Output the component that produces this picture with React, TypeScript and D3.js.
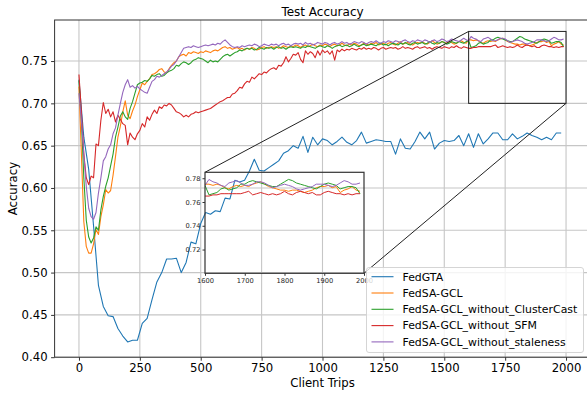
import * as d3 from "d3";
import React, { useEffect, useRef } from "react";

// FedGTA is logged every 20 trips, the others every 10
const gtaTrips = d3.range(0, 2000, 20);
const fedGTA = [
  0.728, 0.66, 0.622, 0.555, 0.485, 0.46, 0.449, 0.448, 0.434, 0.425,
  0.418, 0.42, 0.42, 0.44, 0.446, 0.468, 0.489, 0.5, 0.516, 0.516,
  0.517, 0.5, 0.512, 0.536, 0.534, 0.558, 0.571, 0.569, 0.573, 0.572,
  0.588, 0.587, 0.609, 0.607, 0.609, 0.62, 0.634, 0.621, 0.62, 0.624,
  0.628, 0.632, 0.641, 0.644, 0.65, 0.647, 0.661, 0.642, 0.66, 0.651,
  0.658, 0.656, 0.651, 0.655, 0.66, 0.654, 0.651, 0.656, 0.666, 0.653,
  0.655, 0.657, 0.656, 0.655, 0.655, 0.64, 0.658, 0.647, 0.646, 0.655,
  0.666, 0.658, 0.666, 0.646, 0.653, 0.656, 0.655, 0.656, 0.662, 0.65,
  0.664, 0.648, 0.664, 0.652, 0.658, 0.665, 0.665, 0.657, 0.657, 0.664,
  0.658, 0.661, 0.665, 0.662, 0.66, 0.657, 0.66, 0.657, 0.665, 0.665,
];

const trips = d3.range(0, 2000, 10);
const fedSA = [
  0.72, 0.64, 0.56, 0.531, 0.523, 0.523, 0.534, 0.551, 0.545, 0.566,
  0.58, 0.598, 0.594, 0.597, 0.615, 0.637, 0.66, 0.673, 0.69, 0.703,
  0.686, 0.682, 0.691, 0.698, 0.708, 0.716, 0.724, 0.722, 0.726, 0.729,
  0.734, 0.735, 0.737, 0.74, 0.741, 0.737, 0.736, 0.741, 0.745, 0.748,
  0.75, 0.755, 0.757, 0.758, 0.756, 0.76, 0.759, 0.761, 0.76, 0.759,
  0.761, 0.76, 0.762, 0.761, 0.76, 0.762, 0.763, 0.762, 0.764, 0.766,
  0.767, 0.765, 0.766, 0.764, 0.765, 0.766, 0.764, 0.765, 0.763, 0.765,
  0.764, 0.766, 0.765, 0.763, 0.764, 0.766, 0.767, 0.765, 0.766, 0.767,
  0.766, 0.767, 0.765, 0.766, 0.768, 0.767, 0.766, 0.768, 0.767, 0.769,
  0.768, 0.766, 0.768, 0.769, 0.767, 0.768, 0.77, 0.768, 0.767, 0.769,
  0.768, 0.77, 0.769, 0.767, 0.769, 0.77, 0.768, 0.769, 0.771, 0.769,
  0.768, 0.77, 0.769, 0.771, 0.77, 0.768, 0.769, 0.771, 0.77, 0.769,
  0.771, 0.77, 0.772, 0.769, 0.77, 0.771, 0.769, 0.771, 0.772, 0.77,
  0.769, 0.771, 0.773, 0.77, 0.771, 0.772, 0.77, 0.769, 0.771, 0.772,
  0.771, 0.773, 0.771, 0.77, 0.772, 0.774, 0.772, 0.77, 0.771, 0.773,
  0.772, 0.771, 0.773, 0.772, 0.77, 0.771, 0.773, 0.774, 0.772, 0.771,
  0.775, 0.775, 0.774, 0.775, 0.774, 0.772, 0.771, 0.773, 0.774, 0.773,
  0.774, 0.773, 0.775, 0.776, 0.777, 0.775, 0.773, 0.772, 0.771, 0.77,
  0.77, 0.769, 0.77, 0.77, 0.769, 0.768, 0.769, 0.77, 0.772, 0.773,
  0.773, 0.774, 0.772, 0.773, 0.768, 0.77, 0.771, 0.773, 0.77, 0.769,
];
const noClusterCast = [
  0.727, 0.68, 0.612, 0.562, 0.542, 0.535, 0.541, 0.554, 0.55, 0.574,
  0.59, 0.602, 0.612, 0.626, 0.64, 0.66, 0.672, 0.685, 0.69, 0.684,
  0.681, 0.694, 0.702, 0.712, 0.722, 0.724, 0.725, 0.727, 0.726, 0.729,
  0.733, 0.732, 0.734, 0.735, 0.732, 0.733, 0.736, 0.738, 0.739, 0.741,
  0.745, 0.744, 0.747, 0.749, 0.748, 0.746, 0.748, 0.751, 0.752, 0.754,
  0.753, 0.752, 0.75, 0.748, 0.751, 0.749, 0.75, 0.749, 0.752, 0.755,
  0.757, 0.758, 0.756, 0.758, 0.76, 0.761, 0.763, 0.762, 0.764, 0.765,
  0.764, 0.765, 0.763, 0.764, 0.766, 0.765, 0.764, 0.766, 0.765, 0.766,
  0.764, 0.766, 0.767, 0.765, 0.766, 0.764, 0.766, 0.767, 0.766, 0.767,
  0.766, 0.765, 0.767, 0.766, 0.768, 0.767, 0.766, 0.765, 0.767, 0.768,
  0.767, 0.766, 0.768, 0.767, 0.765, 0.767, 0.768, 0.769, 0.767, 0.768,
  0.769, 0.767, 0.768, 0.77, 0.768, 0.767, 0.769, 0.77, 0.768, 0.769,
  0.77, 0.769, 0.768, 0.77, 0.771, 0.769, 0.77, 0.768, 0.77, 0.771,
  0.77, 0.769, 0.771, 0.77, 0.772, 0.77, 0.769, 0.771, 0.772, 0.77,
  0.771, 0.772, 0.77, 0.771, 0.773, 0.771, 0.77, 0.772, 0.771, 0.773,
  0.772, 0.77, 0.771, 0.773, 0.772, 0.771, 0.773, 0.772, 0.771, 0.773,
  0.774, 0.766, 0.767, 0.768, 0.771, 0.772, 0.77, 0.771, 0.772, 0.775,
  0.775, 0.777, 0.778, 0.777, 0.776, 0.775, 0.774, 0.773, 0.773, 0.775,
  0.777, 0.779, 0.778, 0.776, 0.775, 0.774, 0.773, 0.772, 0.771, 0.773,
  0.775, 0.776, 0.775, 0.774, 0.771, 0.772, 0.773, 0.773, 0.772, 0.767,
];
const noSFM = [
  0.734, 0.69, 0.64, 0.612, 0.604, 0.614, 0.612, 0.652, 0.65, 0.68,
  0.701, 0.688, 0.693, 0.684, 0.69, 0.678, 0.686, 0.681, 0.676, 0.674,
  0.651, 0.665, 0.66, 0.657, 0.664, 0.668, 0.676, 0.672, 0.684, 0.68,
  0.687, 0.692, 0.688, 0.696, 0.694, 0.698, 0.697, 0.7, 0.698, 0.694,
  0.69, 0.689, 0.687, 0.684, 0.686, 0.684, 0.687, 0.688, 0.69, 0.689,
  0.69, 0.691, 0.692, 0.693, 0.694, 0.696, 0.698, 0.7, 0.702, 0.703,
  0.705, 0.707, 0.707, 0.711, 0.712, 0.715, 0.719, 0.718, 0.723, 0.726,
  0.725, 0.731, 0.729, 0.732, 0.735, 0.734, 0.737, 0.736, 0.739, 0.741,
  0.742, 0.74, 0.745, 0.744, 0.748, 0.755, 0.749, 0.753, 0.758, 0.757,
  0.76, 0.752, 0.748, 0.762, 0.758, 0.761, 0.759, 0.754, 0.762, 0.757,
  0.763, 0.76, 0.762, 0.758, 0.762, 0.751, 0.763, 0.761, 0.764, 0.762,
  0.764, 0.763, 0.765, 0.764, 0.763, 0.765, 0.764, 0.766, 0.764, 0.765,
  0.764, 0.766, 0.765, 0.763, 0.765, 0.766, 0.764, 0.765, 0.766, 0.765,
  0.766, 0.764, 0.765, 0.767, 0.765, 0.766, 0.765, 0.764, 0.766, 0.767,
  0.765, 0.766, 0.767, 0.765, 0.766, 0.764, 0.766, 0.767, 0.766, 0.765,
  0.767, 0.766, 0.765, 0.767, 0.766, 0.768, 0.766, 0.765, 0.767, 0.766,
  0.765, 0.765, 0.766, 0.766, 0.767, 0.767, 0.767, 0.767, 0.767, 0.767,
  0.768, 0.769, 0.766, 0.767, 0.768, 0.767, 0.766, 0.767, 0.766, 0.767,
  0.769, 0.767, 0.766, 0.768, 0.769, 0.768, 0.767, 0.768, 0.766, 0.766,
  0.768, 0.769, 0.768, 0.767, 0.767, 0.766, 0.767, 0.766, 0.767, 0.767,
];
const noStaleness = [
  0.712, 0.68, 0.64, 0.602, 0.576, 0.566, 0.563, 0.571, 0.594, 0.612,
  0.632, 0.637, 0.646, 0.651, 0.664, 0.671, 0.686, 0.7, 0.713, 0.722,
  0.728, 0.719, 0.721, 0.718, 0.72, 0.717, 0.715, 0.713, 0.712, 0.719,
  0.726, 0.728, 0.732, 0.731, 0.733, 0.735, 0.737, 0.74, 0.744, 0.746,
  0.75, 0.755, 0.76, 0.765, 0.766, 0.767, 0.766, 0.768, 0.767, 0.766,
  0.767, 0.768, 0.769, 0.768, 0.769, 0.77, 0.769, 0.771, 0.77, 0.773,
  0.775, 0.772, 0.769, 0.767, 0.766, 0.767, 0.766, 0.768, 0.767, 0.768,
  0.769, 0.768, 0.77, 0.769, 0.767, 0.768, 0.77, 0.769, 0.768, 0.77,
  0.769, 0.77, 0.768, 0.77, 0.771, 0.769, 0.77, 0.768, 0.77, 0.771,
  0.77, 0.771, 0.769, 0.772, 0.77, 0.771, 0.769, 0.77, 0.772, 0.771,
  0.77, 0.772, 0.771, 0.769, 0.771, 0.772, 0.77, 0.771, 0.773, 0.771,
  0.772, 0.77, 0.771, 0.773, 0.772, 0.771, 0.773, 0.772, 0.77, 0.772,
  0.773, 0.772, 0.774, 0.772, 0.771, 0.773, 0.772, 0.774, 0.773, 0.772,
  0.774, 0.773, 0.772, 0.774, 0.775, 0.773, 0.772, 0.774, 0.773, 0.775,
  0.774, 0.773, 0.775, 0.774, 0.772, 0.774, 0.775, 0.773, 0.774, 0.776,
  0.775, 0.773, 0.774, 0.776, 0.775, 0.774, 0.773, 0.775, 0.777, 0.775,
  0.774, 0.779, 0.777, 0.776, 0.774, 0.773, 0.776, 0.777, 0.778, 0.776,
  0.774, 0.774, 0.775, 0.777, 0.777, 0.776, 0.774, 0.772, 0.773, 0.774,
  0.775, 0.774, 0.773, 0.771, 0.77, 0.771, 0.772, 0.773, 0.775, 0.775,
  0.775, 0.774, 0.773, 0.774, 0.776, 0.778, 0.777, 0.775, 0.775, 0.776,
];

const seriesNames = [
  "FedGTA",
  "FedSA-GCL",
  "FedSA-GCL_without_ClusterCast",
  "FedSA-GCL_without_SFM",
  "FedSA-GCL_without_staleness",
];
const colors = ["#1f77b4", "#ff7f0e", "#2ca02c", "#d62728", "#9467bd"];
const xTicks = [0, 250, 500, 750, 1000, 1250, 1500, 1750, 2000];
const yTicks = [0.4, 0.45, 0.5, 0.55, 0.6, 0.65, 0.7, 0.75];
const insetXTicks = [1600, 1700, 1800, 1900, 2000];
const insetYTicks = [0.72, 0.74, 0.76, 0.78];

const font = "DejaVu Sans, sans-serif";

function AccuracyChart() {
  const width = 587;
  const height = 395;
  const ref = useRef<SVGSVGElement | null>(null);

  useEffect(() => {
    const svg = d3.select(ref.current);
    svg.selectAll("*").remove();

    const series = [
      { name: seriesNames[0], xs: gtaTrips, ys: fedGTA },
      { name: seriesNames[1], xs: trips, ys: fedSA },
      { name: seriesNames[2], xs: trips, ys: noClusterCast },
      { name: seriesNames[3], xs: trips, ys: noSFM },
      { name: seriesNames[4], xs: trips, ys: noStaleness },
    ];

    const x = d3.scaleLinear().domain([-100, 2100]).range([54.6, 590.4]);
    const y = d3.scaleLinear().domain([0.4, 0.7985]).range([357.2, 20]);
    const [left, right] = x.range();
    const [bottom, top] = y.range();

    svg.append("rect").attr("width", width).attr("height", height).attr("fill", "#fff");

    const defs = svg.append("defs");
    defs.append("clipPath").attr("id", "plot-clip")
      .append("rect").attr("x", left).attr("y", top)
      .attr("width", right - left).attr("height", bottom - top);

    // grid
    const grid = svg.append("g").attr("stroke", "#c6c6c6").attr("stroke-width", 1.1);
    grid.selectAll("line.v").data(xTicks).join("line").attr("class", "v")
      .attr("x1", (d) => x(d)).attr("x2", (d) => x(d)).attr("y1", top).attr("y2", bottom);
    grid.selectAll("line.h").data(yTicks).join("line").attr("class", "h")
      .attr("x1", left).attr("x2", right).attr("y1", (d) => y(d)).attr("y2", (d) => y(d));

    const line = d3.line<number>();
    const lines = svg.append("g").attr("clip-path", "url(#plot-clip)").attr("fill", "none");
    series.forEach((s, i) => {
      lines.append("path")
        .attr("d", line(s.ys.map((v, j) => [x(s.xs[j]), y(v)] as [number, number])))
        .attr("stroke", colors[i]).attr("stroke-width", 1.1).attr("stroke-linejoin", "round");
    });

    // axes
    const xAxis = svg.append("g").attr("transform", `translate(0,${bottom})`)
      .call(d3.axisBottom(x).tickValues(xTicks).tickFormat(d3.format("d")).tickSize(3.5).tickPadding(3.5));
    const yAxis = svg.append("g").attr("transform", `translate(${left},0)`)
      .call(d3.axisLeft(y).tickValues(yTicks).tickFormat(d3.format(".2f")).tickSize(3.5).tickPadding(3.5));
    [xAxis, yAxis].forEach((g) => {
      g.select(".domain").remove();
      g.selectAll("line").attr("stroke", "#333");
      g.selectAll("text").attr("font-family", font).attr("font-size", 11.7).attr("fill", "#000");
    });

    // spines (right one falls outside the picture)
    svg.append("rect").attr("x", left).attr("y", top)
      .attr("width", right - left).attr("height", bottom - top)
      .attr("fill", "none").attr("stroke", "#333").attr("stroke-width", 1);

    svg.append("text").attr("x", (left + right) / 2).attr("y", 16)
      .attr("text-anchor", "middle").attr("font-family", font).attr("font-size", 12)
      .text("Test Accuracy");
    svg.append("text").attr("x", (left + right) / 2).attr("y", 387)
      .attr("text-anchor", "middle").attr("font-family", font).attr("font-size", 11.7)
      .text("Client Trips");
    svg.append("text")
      .attr("transform", `translate(17,${(top + bottom) / 2}) rotate(-90)`)
      .attr("text-anchor", "middle").attr("font-family", font).attr("font-size", 11.7)
      .text("Accuracy");

    // zoomed inset
    const xi = d3.scaleLinear().domain([1600, 2000]).range([205, 364]);
    const yi = d3.scaleLinear().domain([0.7, 0.785]).range([273.3, 172.3]);
    const [il, ir] = xi.range();
    const [ib, it] = yi.range();

    const mark = svg.append("g").attr("fill", "none").attr("stroke", "#222").attr("stroke-width", 1);
    mark.append("rect").attr("x", x(1600)).attr("y", y(0.785))
      .attr("width", x(2000) - x(1600)).attr("height", y(0.7) - y(0.785));
    mark.append("line").attr("x1", x(1600)).attr("y1", y(0.785)).attr("x2", il).attr("y2", it);
    mark.append("line").attr("x1", x(2000)).attr("y1", y(0.7)).attr("x2", ir).attr("y2", ib);

    defs.append("clipPath").attr("id", "inset-clip")
      .append("rect").attr("x", il).attr("y", it).attr("width", ir - il).attr("height", ib - it);
    const insetLines = svg.append("g").attr("clip-path", "url(#inset-clip)").attr("fill", "none");
    series.forEach((s, i) => {
      if (i === 0) return;
      insetLines.append("path")
        .attr("d", line(s.ys.map((v, j) => [xi(s.xs[j]), yi(v)] as [number, number])))
        .attr("stroke", colors[i]).attr("stroke-width", 1).attr("stroke-linejoin", "round");
    });

    const ixAxis = svg.append("g").attr("transform", `translate(0,${ib})`)
      .call(d3.axisBottom(xi).tickValues(insetXTicks).tickFormat(d3.format("d")).tickSize(2.5).tickPadding(2));
    const iyAxis = svg.append("g").attr("transform", `translate(${il},0)`)
      .call(d3.axisLeft(yi).tickValues(insetYTicks).tickFormat(d3.format(".2f")).tickSize(2.5).tickPadding(2));
    [ixAxis, iyAxis].forEach((g) => {
      g.select(".domain").remove();
      g.selectAll("line").attr("stroke", "#333");
      g.selectAll("text").attr("font-family", font).attr("font-size", 6.7).attr("fill", "#222");
    });
    svg.append("rect").attr("x", il).attr("y", it).attr("width", ir - il).attr("height", ib - it)
      .attr("fill", "none").attr("stroke", "#333").attr("stroke-width", 1.2);

    // legend
    const legend = svg.append("g").attr("transform", "translate(366.5,267.5)");
    legend.append("rect").attr("width", 217).attr("height", 85).attr("rx", 2.5)
      .attr("fill", "#fff").attr("fill-opacity", 0.8).attr("stroke", "#d0d0d0").attr("stroke-width", 0.9);
    seriesNames.forEach((name, i) => {
      const row = legend.append("g").attr("transform", `translate(0,${9.2 + i * 16.3})`);
      row.append("line").attr("x1", 5).attr("x2", 27).attr("stroke", colors[i]).attr("stroke-width", 1.1);
      row.append("text").attr("x", 36).attr("dy", "0.35em")
        .attr("font-family", font).attr("font-size", 10.9).text(name);
    });
  }, []);

  return (
    <svg
      ref={ref}
      width={width}
      height={height}
      viewBox={`0 0 ${width} ${height}`}
      style={{ position: "absolute", left: 0, top: 0 }}
    />
  );
}

export default function App() {
  return <AccuracyChart />;
}
